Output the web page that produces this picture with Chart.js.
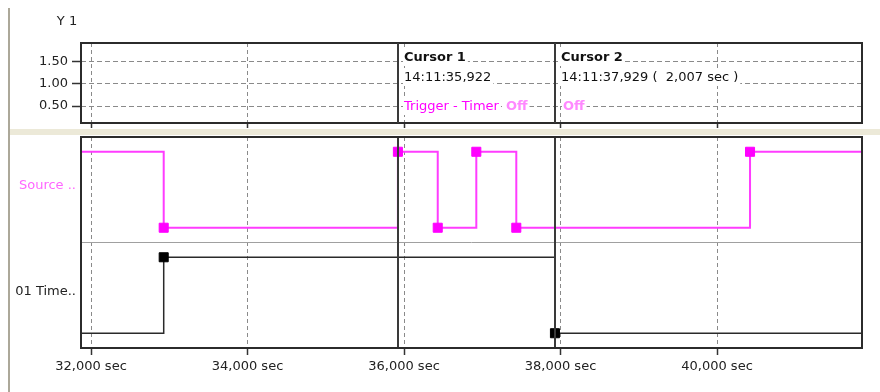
<!DOCTYPE html>
<html>
<head>
<meta charset="utf-8">
<script src="https://cdn.jsdelivr.net/npm/chart.js@4"></script>
<style>
  body { margin: 0; background: #fff; }
  #wrap { position: relative; width: 880px; height: 392px; overflow: hidden; }
  #wrap canvas { position: absolute; left: 0; }
  #top-chart { top: 0; }
  #bottom-chart { top: 135px; }
  .frame-left { position: absolute; left: 8px; top: 8px; width: 2px; height: 384px; background: #aca899; }
  .splitter { position: absolute; left: 10px; right: 0; top: 129px; height: 6px; background: #ece9d8; }
</style>
</head>
<body>
<div id="wrap">
  <canvas id="top-chart" width="880" height="129"></canvas>
  <canvas id="bottom-chart" width="880" height="257"></canvas>
  <div class="frame-left"></div>
  <div class="splitter"></div>
</div>
<script>
// Time axis (sec)
const timeMin = 31872;
const timeMax = 41853;
const timeTicks = [32000, 34000, 36000, 38000, 40000];
const timeTickLabels = ['32,000 sec', '34,000 sec', '36,000 sec', '38,000 sec', '40,000 sec'];

// Y 1 panel
const y1Ticks = [0.5, 1.0, 1.5];
const y1TickLabels = ['0.50', '1.00', '1.50'];

// Logic traces: switching times and states
const laneNames = ['01 Time..', 'Source ..'];
const sourceTimes = [31872, 32929, 35922, 36431, 36924, 37435, 40422, 41853];
const sourceStates = [1, 0, 1, 0, 1, 0, 1, 1];
const timerTimes = [31872, 32929, 37929, 41853];
const timerStates = [0, 1, 0, 0];

// Cursors
const cursorTimes = [35922, 37929];
const cursorTitles = ['Cursor 1', 'Cursor 2'];
const cursorStamps = ['14:11:35,922', '14:11:37,929 (  2,007 sec )'];
const cursorTriggers = ['Trigger - Timer', ''];
const cursorStates = ['Off', 'Off'];

const FONT = '"DejaVu Sans", Verdana, sans-serif';
const INK = '#222';
const MAGENTA = '#ff00ff';

// a state 0/1 sits inside its lane, a bit off the lane edges
function laneY(lane, state) {
    return lane + 0.14 + state * 0.72;
}

function traceData(times, states, lane) {
    return times.map((t, i) => ({ x: t, y: laneY(lane, states[i]) }));
}

// markers only where the signal switches
function edgeRadius(count) {
    return ctx => (ctx.dataIndex > 0 && ctx.dataIndex < count - 1) ? 6.4 : 0;
}

// no extra room for half labels, the frame is placed by hand
function fixSize(prop, size) {
    return scale => {
        scale[prop] = size;
        scale.paddingTop = 0;
        scale.paddingBottom = 0;
        scale.paddingLeft = 0;
        scale.paddingRight = 0;
    };
}

const framePlugin = {
    id: 'frame',
    afterDraw(chart) {
        const { ctx, chartArea: a } = chart;
        ctx.save();
        ctx.strokeStyle = '#2b2b2b';
        ctx.lineWidth = 2;
        ctx.strokeRect(a.left, a.top, a.right - a.left, a.bottom - a.top);
        ctx.restore();
    }
};

function drawCursorLines(chart) {
    const { ctx, chartArea: a, scales } = chart;
    ctx.save();
    ctx.strokeStyle = '#3a3a3a';
    ctx.lineWidth = 2;
    cursorTimes.forEach(t => {
        const x = Math.round(scales.x.getPixelForValue(t));
        ctx.beginPath();
        ctx.moveTo(x, a.top);
        ctx.lineTo(x, a.bottom);
        ctx.stroke();
    });
    ctx.restore();
}

function boxedText(ctx, text, x, y, font, color) {
    ctx.font = font;
    const w = ctx.measureText(text).width;
    ctx.fillStyle = '#fff';
    ctx.fillRect(x - 1, y - 8, w + 3, 16);
    ctx.fillStyle = color;
    ctx.textBaseline = 'middle';
    ctx.textAlign = 'left';
    ctx.fillText(text, x, y);
    return w;
}

const cursorPlugin = {
    id: 'cursorInfo',
    afterDraw(chart) {
        const { ctx, scales } = chart;
        drawCursorLines(chart);
        ctx.save();
        cursorTimes.forEach((t, i) => {
            const x = Math.round(scales.x.getPixelForValue(t)) + 6;
            boxedText(ctx, cursorTitles[i], x, 58, 'bold 13px ' + FONT, '#111');
            boxedText(ctx, cursorStamps[i], x, 78, '13px ' + FONT, '#111');
            let offX = x + 2;
            if (cursorTriggers[i]) {
                const w = boxedText(ctx, cursorTriggers[i], x, 107, '13px ' + FONT, MAGENTA);
                offX = x + w + 7;
            }
            boxedText(ctx, cursorStates[i], offX, 107, 'bold 13px ' + FONT, '#ff88ff');
        });
        ctx.font = '13px ' + FONT;
        ctx.fillStyle = INK;
        ctx.textAlign = 'center';
        ctx.textBaseline = 'middle';
        ctx.fillText('Y 1', 67, 22);
        ctx.restore();
    }
};

const dashedTimeAxis = (height, showLabels) => ({
    type: 'linear',
    min: timeMin,
    max: timeMax,
    afterBuildTicks: scale => { scale.ticks = timeTicks.map(v => ({ value: v })); },
    afterFit: fixSize('height', height),
    border: { display: false, dash: [4, 3] },
    grid: { color: '#8a8a8a', lineWidth: 1, tickLength: showLabels ? 7 : 5, tickColor: '#333', tickWidth: 1.5 },
    ticks: {
        autoSkip: false,
        maxRotation: 0,
        padding: 4,
        color: INK,
        font: { family: FONT, size: 13 },
        callback: (v, i) => showLabels ? timeTickLabels[i] : ''
    }
});

// Top panel: Y 1 with the cursor readouts
new Chart(document.getElementById('top-chart'), {
    type: 'line',
    data: { datasets: [] },
    options: {
        responsive: false,
        devicePixelRatio: 1,
        animation: false,
        layout: { padding: { top: 43, right: 18, left: 0, bottom: 0 } },
        plugins: { legend: { display: false }, tooltip: { enabled: false } },
        scales: {
            x: dashedTimeAxis(6, false),
            y: {
                type: 'linear',
                min: 0.12,
                max: 1.92,
                afterBuildTicks: scale => { scale.ticks = y1Ticks.map(v => ({ value: v })); },
                afterFit: fixSize('width', 81),
                border: { display: false, dash: [5, 3] },
                grid: { color: '#8a8a8a', lineWidth: 1, tickLength: 9, tickColor: '#333', tickWidth: 1.5 },
                ticks: {
                    padding: 4,
                    color: INK,
                    font: { family: FONT, size: 13 },
                    callback: (v, i) => y1TickLabels[i]
                }
            }
        }
    },
    plugins: [framePlugin, cursorPlugin]
});

// Bottom panel: logic traces
new Chart(document.getElementById('bottom-chart'), {
    type: 'line',
    data: {
        datasets: [
            {
                label: laneNames[1],
                data: traceData(sourceTimes, sourceStates, 1),
                stepped: 'before',
                borderColor: '#ff3cff',
                borderWidth: 2,
                pointStyle: 'rect',
                pointRadius: edgeRadius(sourceTimes.length),
                pointBackgroundColor: MAGENTA,
                pointBorderColor: MAGENTA,
                pointBorderWidth: 1
            },
            {
                label: laneNames[0],
                data: traceData(timerTimes, timerStates, 0),
                stepped: 'before',
                borderColor: '#2a2a2a',
                borderWidth: 1.5,
                pointStyle: 'rect',
                pointRadius: edgeRadius(timerTimes.length),
                pointBackgroundColor: '#000',
                pointBorderColor: '#000',
                pointBorderWidth: 1
            }
        ]
    },
    options: {
        responsive: false,
        devicePixelRatio: 1,
        animation: false,
        layout: { padding: { top: 2, right: 18, left: 0, bottom: 0 } },
        plugins: { legend: { display: false }, tooltip: { enabled: false } },
        scales: {
            x: dashedTimeAxis(44, true),
            y: {
                type: 'linear',
                min: 0,
                max: 2,
                afterBuildTicks: scale => { scale.ticks = [0, 0.5, 1, 1.5, 2].map(v => ({ value: v })); },
                afterFit: fixSize('width', 81),
                border: { display: false },
                grid: {
                    drawTicks: false,
                    lineWidth: 1,
                    color: ctx => ctx.tick && ctx.tick.value === 1 ? '#a0a0a0' : 'rgba(0,0,0,0)'
                },
                ticks: {
                    padding: 5,
                    labelOffset: -4,
                    font: { family: FONT, size: 13 },
                    color: ctx => ctx.tick && ctx.tick.value === 1.5 ? '#ff66ff' : INK,
                    callback: v => v === 0.5 ? laneNames[0] : (v === 1.5 ? laneNames[1] : '')
                }
            }
        }
    },
    plugins: [framePlugin, { id: 'cursorLines', afterDatasetsDraw: drawCursorLines }]
});
</script>
</body>
</html>
